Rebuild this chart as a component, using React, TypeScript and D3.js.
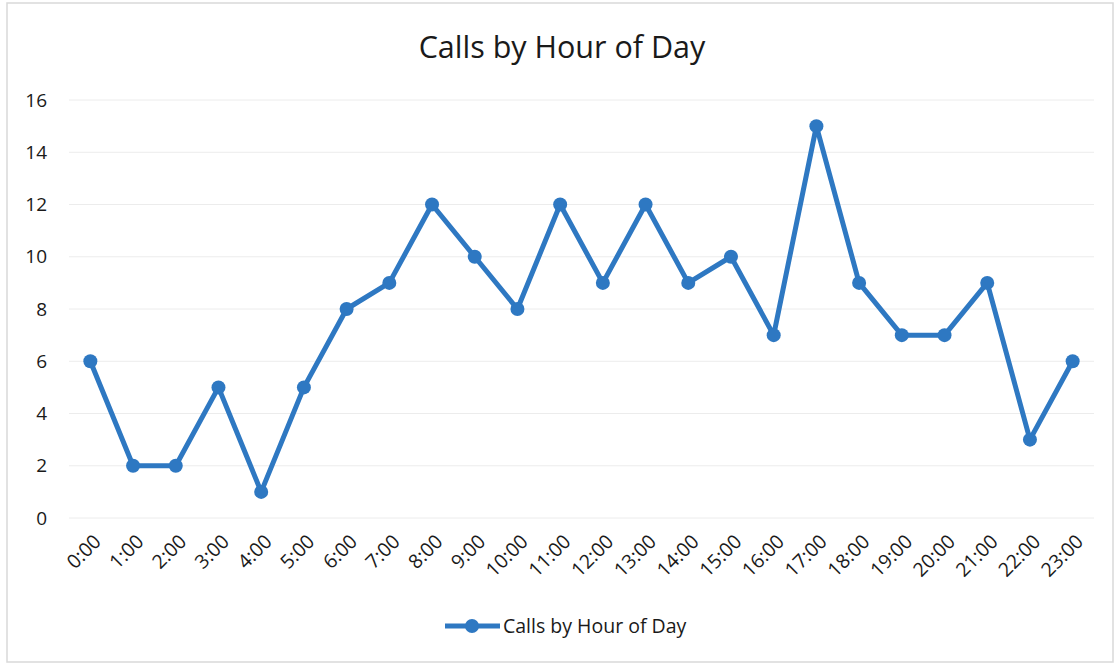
import React from 'react';
import * as d3 from 'd3';

const hours = ['0:00', '1:00', '2:00', '3:00', '4:00', '5:00', '6:00', '7:00', '8:00', '9:00', '10:00', '11:00',
  '12:00', '13:00', '14:00', '15:00', '16:00', '17:00', '18:00', '19:00', '20:00', '21:00', '22:00', '23:00'];
const calls = [6, 2, 2, 5, 1, 5, 8, 9, 12, 10, 8, 12, 9, 12, 9, 10, 7, 15, 9, 7, 7, 9, 3, 6];
const yTicks = [0, 2, 4, 6, 8, 10, 12, 14, 16];
const seriesName = 'Calls by Hour of Day';

export default function App() {
  const width = 1119;
  const height = 665;
  const margin = { top: 100, right: 25, bottom: 147, left: 69 };
  const color = '#2e78c2';
  const font = "'Open Sans', 'Noto Sans', sans-serif";

  const x = d3.scaleBand<string>()
    .domain(hours)
    .range([margin.left, width - margin.right]);
  const y = d3.scaleLinear()
    .domain([0, 16])
    .range([height - margin.bottom, margin.top]);

  const cx = (h: string) => (x(h) ?? 0) + x.bandwidth() / 2;

  const line = d3.line<number>()
    .x((d, i) => cx(hours[i]))
    .y(d => y(d));

  return (
    <svg width={width} height={height} style={{ position: 'absolute', left: 0, top: 0, background: '#fff' }}>
      <rect x={7} y={3} width={width - 13} height={height - 6} fill="#fff" stroke="#d9d9d9" strokeWidth={1.5} />

      <text x={562} y={58} textAnchor="middle" fontSize={30.5} fontFamily={font} fill="#1a1a1a">
        Calls by Hour of Day
      </text>

      {/* grid */}
      {yTicks.map(t => (
        <line key={t} x1={margin.left} x2={width - margin.right} y1={y(t)} y2={y(t)}
          stroke="#ececec" strokeWidth={1} />
      ))}

      {/* y labels */}
      {yTicks.map(t => (
        <text key={t} x={47} y={y(t)} dy="0.35em" textAnchor="end" fontSize={19} fontFamily={font} fill="#1a1a1a">
          {t}
        </text>
      ))}

      {/* x labels */}
      {hours.map(h => (
        <text key={h} transform={`translate(${cx(h) + 7},${y(0) + 20}) rotate(-45)`} textAnchor="end"
          dy="0.35em" fontSize={19.5} fontFamily={font} fill="#1a1a1a">
          {h}
        </text>
      ))}

      <path d={line(calls) ?? ''} fill="none" stroke={color} strokeWidth={5} strokeLinejoin="round" />
      {calls.map((v, i) => (
        <circle key={i} cx={cx(hours[i])} cy={y(v)} r={7} fill={color} />
      ))}

      {/* legend */}
      <line x1={445} x2={500} y1={626} y2={626} stroke={color} strokeWidth={5} />
      <circle cx={472} cy={626} r={7} fill={color} />
      <text x={503} y={626} dy="0.35em" fontSize={19.5} fontFamily={font} fill="#1a1a1a">
        {seriesName}
      </text>
    </svg>
  );
}
